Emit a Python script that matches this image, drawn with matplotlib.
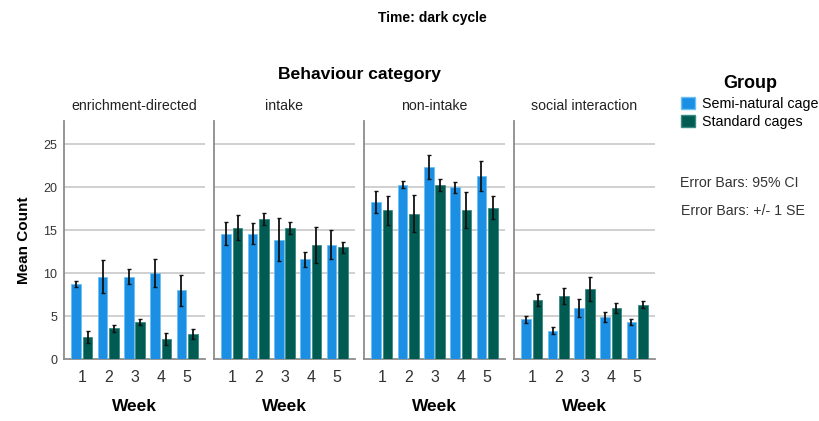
import matplotlib
matplotlib.use('Agg')
import matplotlib.pyplot as plt
import numpy as np
from matplotlib.patches import Patch

plt.rcParams['font.family'] = ['Liberation Sans', 'DejaVu Sans']

weeks = [1, 2, 3, 4, 5]
categories = ['enrichment-directed', 'intake', 'non-intake', 'social interaction']
groups = ['Semi-natural cage', 'Standard cages']

# mean counts per category, per week
semi_mean = [
    [8.7, 9.6, 9.6, 10.0, 8.0],
    [14.6, 14.6, 13.9, 11.6, 13.3],
    [18.3, 20.3, 22.3, 20.0, 21.3],
    [4.6, 3.3, 5.9, 4.9, 4.3],
]
std_mean = [
    [2.6, 3.6, 4.3, 2.3, 2.9],
    [15.3, 16.3, 15.3, 13.3, 13.0],
    [17.3, 16.9, 20.3, 17.3, 17.6],
    [6.9, 7.3, 8.2, 5.9, 6.3],
]
# error bar half widths
semi_err = [
    [0.35, 1.9, 0.9, 1.6, 1.8],
    [1.35, 1.2, 2.5, 0.9, 1.7],
    [1.25, 0.4, 1.4, 0.65, 1.8],
    [0.4, 0.4, 1.05, 0.6, 0.37],
]
std_err = [
    [0.7, 0.4, 0.35, 0.7, 0.6],
    [1.5, 0.75, 0.7, 2.1, 0.65],
    [1.7, 2.15, 0.7, 2.1, 1.35],
    [0.7, 0.95, 1.4, 0.6, 0.4],
]

blue = '#1a8fe3'
green = '#005b52'
W, H = 819, 421

fig = plt.figure(figsize=(W / 100, H / 100), dpi=100)
fig.patch.set_facecolor('white')

px_left = [64, 214, 364, 514]
px_w = 141
px_top, px_bot = 121, 359

x = np.array(weeks)
ekw = dict(ecolor='#111111', elinewidth=1.3, capsize=1.2, capthick=1)
for i, cat in enumerate(categories):
    ax = fig.add_axes([px_left[i] / W, (H - px_bot) / H, px_w / W, (px_bot - px_top) / H])
    ax.bar(x - 0.215, semi_mean[i], width=0.37, color=blue, edgecolor='#6cc0f5', linewidth=0.6,
           yerr=semi_err[i], error_kw=ekw, zorder=3)
    ax.bar(x + 0.215, std_mean[i], width=0.37, color=green, edgecolor='#3a8a80', linewidth=0.6,
           yerr=std_err[i], error_kw=ekw, zorder=3)
    ax.set_xlim(0.32, 5.68)
    ax.set_ylim(0, 27.7)
    ax.set_yticks([0, 5, 10, 15, 20, 25])
    ax.set_xticks(weeks)
    ax.set_xticklabels([str(w) for w in weeks], fontsize=11.5, color='#333333')
    for yv in [5, 10, 15, 20, 25]:
        ax.axhline(yv, color='#c8c8c8', linewidth=1.2, zorder=1)
    for s in ['top', 'right']:
        ax.spines[s].set_visible(False)
    for s in ['left', 'bottom']:
        ax.spines[s].set_color('#8c8c8c')
        ax.spines[s].set_linewidth(1.3)
    ax.tick_params(axis='x', length=0, pad=8)
    if i == 0:
        ax.tick_params(axis='y', length=0, labelsize=9, colors='#333333', pad=5)
        ax.set_ylabel('Mean Count', fontsize=11, fontweight='bold', labelpad=9)
    else:
        ax.tick_params(axis='y', length=0, labelleft=False)
    ax.set_title(cat, fontsize=10.2, color='#222222', pad=8)
    ax.set_xlabel('Week', fontsize=12.5, fontweight='bold', labelpad=10)

fig.text(432 / W, 1 - 18 / H, 'Time: dark cycle', ha='center', va='center', fontsize=10, fontweight='bold')
fig.text(360 / W, 1 - 75 / H, 'Behaviour category', ha='center', va='center', fontsize=12.6, fontweight='bold')

handles = [Patch(facecolor=blue, edgecolor='#6cc0f5'), Patch(facecolor=green, edgecolor='#3a8a80')]
leg = fig.legend(handles, groups, loc='upper left', bbox_to_anchor=(670 / W, 1 - 64 / H),
                 title='Group', frameon=False, fontsize=10.3, handlelength=0.95, handleheight=0.95,
                 handletextpad=0.5, labelspacing=0.3, borderpad=0.3)
leg.get_title().set_fontweight('bold')
leg.get_title().set_fontsize(13)
leg._legend_box.align = 'center'

fig.text(680 / W, 1 - 183 / H, 'Error Bars: 95% CI', ha='left', va='center', fontsize=10.2, color='#333333')
fig.text(681 / W, 1 - 211 / H, 'Error Bars: +/- 1 SE', ha='left', va='center', fontsize=10.2, color='#333333')

fig.savefig('out.png', dpi=100)
